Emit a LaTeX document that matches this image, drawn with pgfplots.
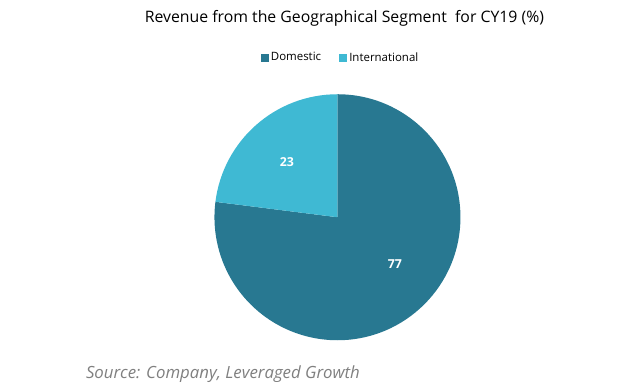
\documentclass[border=0pt]{standalone}
\usepackage{pgfplots}
\usepackage{pgfplotstable}
\pgfplotsset{compat=1.18}
\usepackage{fontspec}
\setmainfont{Open Sans}
\definecolor{domcol}{HTML}{287891}
\definecolor{intcol}{HTML}{3FB9D3}
\definecolor{srcgray}{HTML}{7F7F7F}
\pgfplotstableread{
label value
Domestic 77
International 23
}\piedata
\begin{document}
\pgfplotstablegetelem{0}{value}\of\piedata \let\vdom\pgfplotsretval
\pgfplotstablegetelem{1}{value}\of\piedata \let\vint\pgfplotsretval
\pgfmathsetmacro{\angint}{90+\vint*3.6}
\pgfmathsetmacro{\angdom}{90-\vdom*3.6}
\begin{tikzpicture}
\begin{axis}[
  scale only axis, width=640bp, height=395bp,
  xmin=0, xmax=640, ymin=0, ymax=395,
  hide axis, clip=false,
  legend style={at={(axis cs:338,337)}, anchor=center, draw=none, fill=none,
    font=\fontsize{11.6}{14}\selectfont,
    /tikz/every even column/.append style={column sep=16bp},
    /tikz/every odd column/.append style={column sep=1bp}},
  legend columns=2,
  legend image code/.code={\fill[#1] (1bp,-4bp) rectangle (8bp,3bp);},
]
\path[use as bounding box] (axis cs:0,0) rectangle (axis cs:640,395);
\addlegendimage{domcol}
\addlegendentry{Domestic}
\addlegendimage{intcol}
\addlegendentry{International}
\fill[domcol] (axis cs:335,176) -- ++(90:124bp) arc[start angle=90, end angle=\angdom, radius=124bp] -- cycle;
\fill[intcol] (axis cs:335,176) -- ++(90:124bp) arc[start angle=90, end angle=\angint, radius=124bp] -- cycle;
\node[white, font=\fontsize{12.5}{14}\selectfont\bfseries] at (axis cs:284,232) {\vint};
\node[white, font=\fontsize{12.5}{14}\selectfont\bfseries] at (axis cs:393,129) {\vdom};
\node[font=\fontsize{16}{18}\selectfont, anchor=center] at (axis cs:342,376) {Revenue from the Geographical Segment\ \ for CY19 (\%)};
\node[font=\fontsize{17}{19}\selectfont\itshape, text=srcgray, anchor=west] at (axis cs:78,18) {Source: Company, Leveraged Growth};
\end{axis}
\end{tikzpicture}
\end{document}
